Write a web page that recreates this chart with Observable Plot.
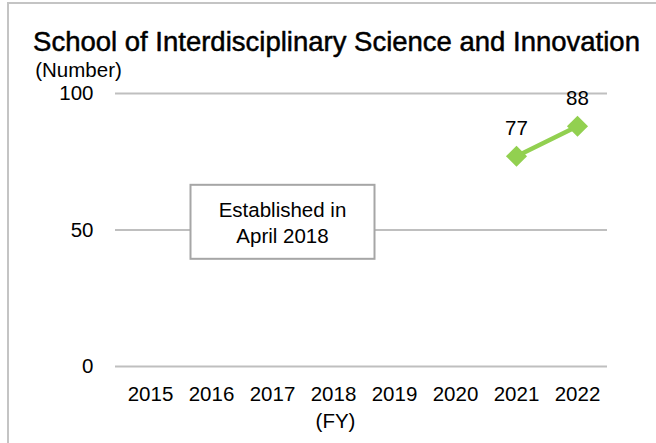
<!DOCTYPE html>
<html>
<head>
<meta charset="utf-8">
<script src="https://cdn.jsdelivr.net/npm/d3@7"></script>
<script src="https://cdn.jsdelivr.net/npm/@observablehq/plot@0.6"></script>
<style>
  html, body { margin: 0; padding: 0; background: #ffffff; }
  #wrap { position: relative; width: 656px; height: 443px; overflow: hidden; background: #ffffff; }
  #border { position: absolute; left: 7px; top: 2px; width: 800px; height: 600px;
            border-top: 2px solid #c4c4c4; border-left: 2px solid #c4c4c4; pointer-events: none; }
  #chart { position: absolute; left: 0; top: 0; }
</style>
</head>
<body>
<div id="wrap"><div id="chart"></div><div id="border"></div></div>
<script>
// ---- data ----
const title = "School of Interdisciplinary Science and Innovation";
const yUnitLabel = "(Number)";
const xUnitLabel = "(FY)";
const years = ["2015", "2016", "2017", "2018", "2019", "2020", "2021", "2022"];
const counts = [null, null, null, null, null, null, 77, 88];
const yTicks = [0, 50, 100];
const noteText = "Established in\nApril 2018";
const noteYear = "2017";
const noteValue = 53;

// ---- build ----
const rows = years.map((y, i) => ({year: y, value: counts[i]}));
const defined = rows.filter(d => d.value != null);
const green = "#92D050";
const font = "'Liberation Sans', Arial, sans-serif";

const boxed = (w, h) => (index, scales, values, dims, ctx, next) => {
  const g = next(index, scales, values, dims, ctx);
  const ns = "http://www.w3.org/2000/svg";
  for (const i of index) {
    const r = document.createElementNS(ns, "rect");
    r.setAttribute("x", values.x[i] - w / 2);
    r.setAttribute("y", values.y[i] - h / 2);
    r.setAttribute("width", w);
    r.setAttribute("height", h);
    r.setAttribute("fill", "#ffffff");
    r.setAttribute("stroke", "#a6a6a6");
    r.setAttribute("stroke-width", 2);
    g.insertBefore(r, g.firstChild);
  }
  return g;
};

const chart = Plot.plot({
  width: 656,
  height: 443,
  marginTop: 93,
  marginBottom: 77,
  marginLeft: 115,
  marginRight: 49,
  style: {fontFamily: font, fontSize: "20.5px", color: "#000", background: "transparent"},
  x: {type: "point", domain: years, padding: 0.5, insetLeft: 2, insetRight: -2, label: null},
  y: {domain: [0, 100], label: null},
  marks: [
    Plot.ruleY(yTicks, {stroke: "#bfbfbf", strokeWidth: 2}),
    Plot.axisY({ticks: yTicks, tickSize: 0, tickPadding: 22, label: null, fontSize: "20.5px"}),
    Plot.axisX({tickSize: 0, tickPadding: 20, label: null, fontSize: "20.5px"}),
    Plot.text([noteText], {x: () => noteYear, y: () => noteValue, text: d => d, dx: 10, dy: 0,
      lineHeight: 26 / 20.5, fontSize: 20.5, fill: "#000", render: boxed(184, 74)}),
    Plot.line(defined, {x: "year", y: "value", stroke: green, strokeWidth: 4.5}),
    Plot.dot(defined, {x: "year", y: "value", symbol: "diamond2", r: 9.5, fill: green, stroke: "none"}),
    Plot.text(defined, {x: "year", y: "value", text: d => String(d.value), dy: -28, fontSize: 20.5, fill: "#000"}),
    Plot.text([title], {frameAnchor: "top", lineAnchor: "middle", text: d => d, dx: -25, dy: -51.8,
      fontSize: 27.5, fill: "#000", stroke: "#000", strokeWidth: 0.5}),
    Plot.text([yUnitLabel], {frameAnchor: "top-left", lineAnchor: "middle", text: d => d, dx: -37, dy: -22.9,
      textAnchor: "middle", fontSize: 20.5, fill: "#000"}),
    Plot.text([xUnitLabel], {frameAnchor: "bottom", lineAnchor: "middle", text: d => d, dx: -26, dy: 55,
      fontSize: 20.5, fill: "#000"})
  ]
});
document.getElementById("chart").appendChild(chart);
</script>
</body>
</html>
